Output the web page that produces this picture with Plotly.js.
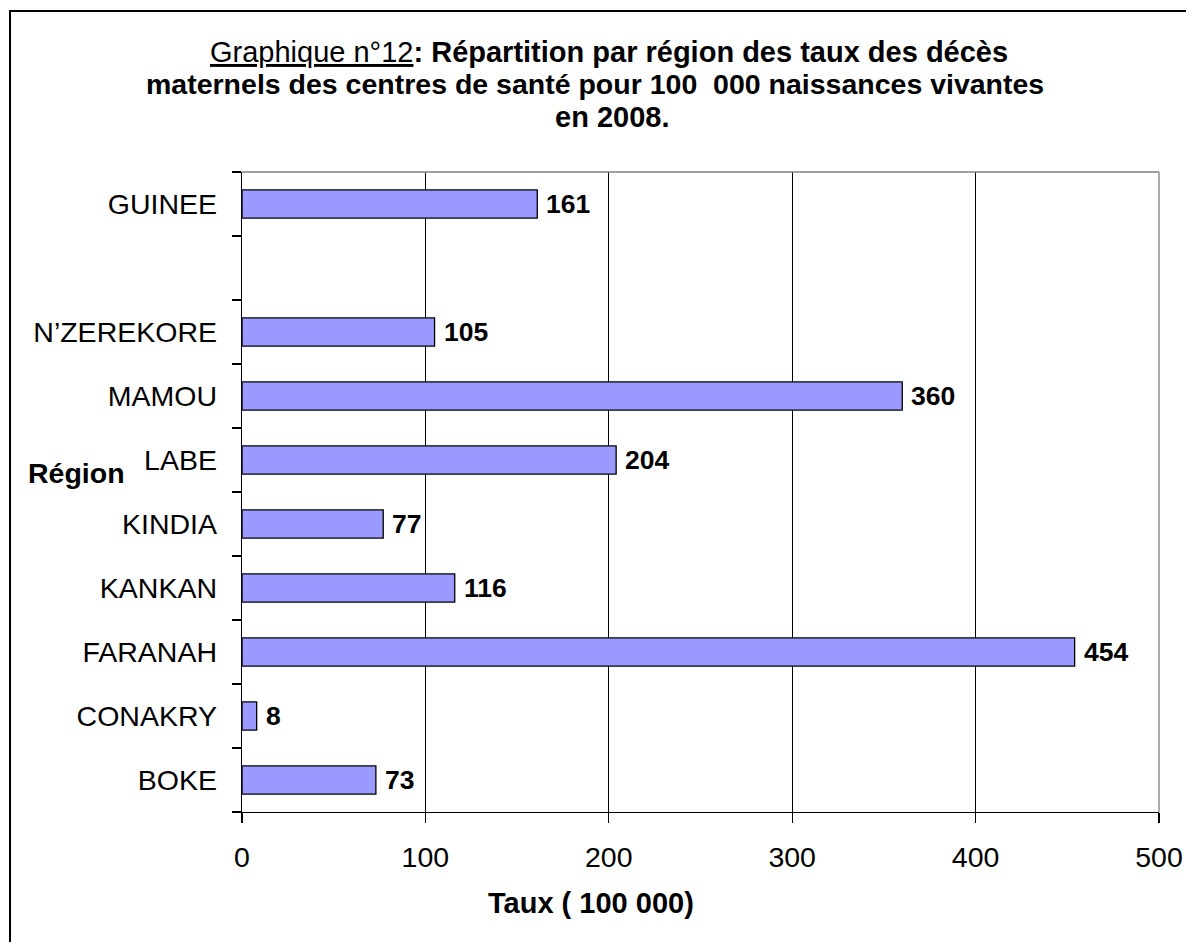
<!DOCTYPE html>
<html>
<head>
<meta charset="utf-8">
<script src="https://cdn.plot.ly/plotly-3.0.1.min.js"></script>
<style>html,body{margin:0;padding:0;background:#fff;}#chart{width:1186px;height:942px;}</style>
</head>
<body>
<div id="chart"></div>
<script>
// Data (bottom to top)
const regions = ['BOKE', 'CONAKRY', 'FARANAH', 'KANKAN', 'KINDIA', 'LABE', 'MAMOU', 'N\u2019ZEREKORE', ' ', 'GUINEE'];
const taux = [73, 8, 454, 116, 77, 204, 360, 105, null, 161];
const xTicks = [0, 100, 200, 300, 400, 500];
const titleLines = [
  '<span style="text-decoration:underline">Graphique n°12</span><b>: Répartition par région des taux des décès</b>',
  '<b>maternels des centres de santé pour 100\u00a0 000 naissances vivantes</b>',
  '<b>en 2008.</b>'
];

const FONT = 'Arial, "Liberation Sans", sans-serif';
const W = 1186, H = 942;
const L = 242, R = 27, T = 172, B = 130;
const pw = W - L - R, ph = H - T - B;
const px2x = p => (p - L) / pw;
const py2y = p => (H - B - p) / ph;

const trace = {
  type: 'bar',
  orientation: 'h',
  x: taux,
  y: regions,
  marker: {color: '#9999FF', line: {color: '#000000', width: 1.3}},
  hoverinfo: 'x+y'
};

const annotations = [];
regions.forEach((r, i) => {
  if (taux[i] === null) return;
  annotations.push({
    x: taux[i], y: r, xref: 'x', yref: 'y',
    text: '<b>' + taux[i] + '</b>',
    showarrow: false, xanchor: 'left', yanchor: 'middle', xshift: 7,
    font: {family: FONT, size: 26.5, color: '#000'}
  });
});
// title lines
const titleCenters = [[609, 52], [595, 84], [612, 117]];
titleLines.forEach((t, i) => {
  annotations.push({
    x: px2x(titleCenters[i][0]), y: py2y(titleCenters[i][1]), xref: 'paper', yref: 'paper',
    text: t, showarrow: false, xanchor: 'center', yanchor: 'middle',
    font: {family: FONT, size: i === 1 ? 28.5 : 29, color: '#000'}
  });
});
annotations.push({
  x: px2x(591), y: py2y(903), xref: 'paper', yref: 'paper',
  text: '<b>Taux ( 100 000)</b>', showarrow: false,
  xanchor: 'center', yanchor: 'middle',
  font: {family: FONT, size: 29, color: '#000'}
});
annotations.push({
  x: px2x(26), y: py2y(473), xref: 'paper', yref: 'paper',
  text: '<b>Région</b>', showarrow: false,
  xanchor: 'left', yanchor: 'middle',
  font: {family: FONT, size: 28.5, color: '#000'}
});

const layout = {
  width: W, height: H,
  margin: {l: L, r: R, t: T, b: B, pad: 0},
  paper_bgcolor: '#ffffff', plot_bgcolor: '#ffffff',
  showlegend: false,
  bargap: 0.56,
  xaxis: {
    range: [0, 500],
    tickvals: xTicks,
    ticktext: xTicks.map(String),
    showgrid: true, gridcolor: '#000000', gridwidth: 1,
    zeroline: false,
    showline: true, linecolor: '#000000', linewidth: 1.3,
    ticks: 'outside', ticklen: 10, tickcolor: '#000000', tickwidth: 1.3,
    ticklabelstandoff: 9,
    tickfont: {family: FONT, size: 28.5, color: '#000'},
    fixedrange: true
  },
  yaxis: {
    type: 'category',
    categoryorder: 'array', categoryarray: regions,
    range: [-0.5, regions.length - 0.5],
    tickson: 'boundaries',
    showgrid: false, zeroline: false,
    showline: true, linecolor: '#000000', linewidth: 1.3,
    ticks: 'outside', ticklen: 9, tickcolor: '#000000', tickwidth: 1.3,
    ticklabelstandoff: 18,
    tickfont: {family: FONT, size: 28.5, color: '#000'},
    fixedrange: true
  },
  shapes: [
    // outer frame
    {type: 'rect', xref: 'paper', yref: 'paper', x0: px2x(10), x1: px2x(1300), y0: py2y(1100), y1: py2y(11),
     line: {color: '#000000', width: 2}, fillcolor: 'rgba(0,0,0,0)', layer: 'below'},
    // plot area top & right border (grey)
    {type: 'line', xref: 'paper', yref: 'paper', x0: 0, x1: 1, y0: 1, y1: 1, line: {color: '#808080', width: 1.3}, layer: 'above'},
    {type: 'line', xref: 'paper', yref: 'paper', x0: 1, x1: 1, y0: 0, y1: 1, line: {color: '#808080', width: 1.3}, layer: 'above'}
  ],
  annotations: annotations
};

Plotly.newPlot('chart', [trace], layout, {displayModeBar: false, staticPlot: true});
</script>
</body>
</html>
